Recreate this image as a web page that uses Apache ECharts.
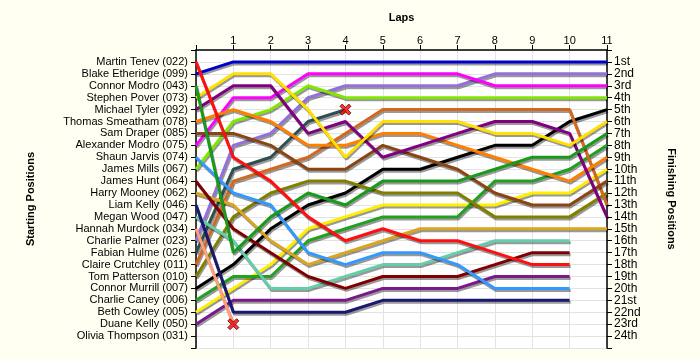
<!DOCTYPE html>
<html>
<head>
<meta charset="utf-8">
<script src="https://cdn.jsdelivr.net/npm/echarts@6/dist/echarts.min.js"></script>
<style>
  html, body { margin: 0; background: #fffff2; }
  #chart { width: 700px; height: 360px; }
</style>
</head>
<body>
<div id="chart"></div>
<script>
// starting grid, top to bottom
var drivers = ['Martin Tenev (022)', 'Blake Etheridge (099)', 'Connor Modro (043)', 'Stephen Pover (073)',
  'Michael Tyler (092)', 'Thomas Smeatham (078)', 'Sam Draper (085)', 'Alexander Modro (075)',
  'Shaun Jarvis (074)', 'James Mills (067)', 'James Hunt (064)', 'Harry Mooney (062)',
  'Liam Kelly (046)', 'Megan Wood (047)', 'Hannah Murdock (034)', 'Charlie Palmer (023)',
  'Fabian Hulme (026)', 'Claire Crutchley (011)', 'Tom Patterson (010)', 'Connor Murrill (007)',
  'Charlie Caney (006)', 'Beth Cowley (005)', 'Duane Kelly (050)', 'Olivia Thompson (031)'];

var finishLabels = ['1st', '2nd', '3rd', '4th', '5th', '6th', '7th', '8th', '9th', '10th', '11th', '12th',
  '13th', '14th', '15th', '16th', '17th', '18th', '19th', '20th', '21st', '22nd', '23rd', '24th'];

var lapLabels = [1, 2, 3, 4, 5, 6, 7, 8, 9, 10, 11];

// position at lap 0,1,2,... for each driver
var tenev      = [1, 9, 11, 14, 16, 15, 16, 16, 17, 18, 18];
var etheridge  = [2, 1, 1, 1, 1, 1, 1, 1, 1, 1, 1, 1];
var cModro     = [3, 17, 14, 12, 13, 11, 11, 11, 10, 9, 9, 7];
var pover      = [4, 2, 2, 5, 9, 6, 6, 6, 7, 7, 8, 6];
var tyler      = [5, 3, 3, 7, 6, 9, 8, 7, 6, 6, 7, 14];
var smeatham   = [6, 5, 6, 8, 8, 7, 7, 8, 9, 10, 11, 9];
var draper     = [7, 7, 8, 10, 10, 8, 9, 10, 12, 13, 13, 11];
var aModro     = [8, 4, 4, 2, 2, 2, 2, 2, 3, 3, 3, 3];
var jarvis     = [9, 12, 13, 17, 18, 17, 17, 18, 20, 20, 20];
var mills      = [10, 6, 5, 3, 4, 4, 4, 4, 4, 4, 4, 4];
var hunt       = [11, 15, 17, 19, 20, 19, 19, 19, 18, 17, 17];
var mooney     = [12, 13, 16, 18, 17, 16, 15, 15, 15, 15, 15, 15];
var lKelly     = [13, 22, 22, 22, 22, 21, 21, 21, 21, 21, 21];
var wood       = [14, 16, 20, 20, 19, 18, 18, 17, 16, 16, 16];
var murdock    = [15, 23];
var palmer     = [16, 8, 7, 4, 3, 3, 3, 3, 2, 2, 2, 2];
var hulme      = [17, 10, 9, 6, 5];
var crutchley  = [18, 11, 10, 9, 7, 5, 5, 5, 5, 5, 5, 13];
var patterson  = [19, 14, 12, 11, 11, 12, 12, 12, 14, 14, 14, 12];
var murrill    = [20, 18, 15, 13, 12, 10, 10, 9, 8, 8, 6, 5];
var caney      = [21, 19, 19, 16, 15, 14, 14, 14, 11, 11, 10, 8];
var cowley     = [22, 20, 18, 15, 14, 13, 13, 13, 13, 12, 12, 10];
var dKelly     = [23, 21, 21, 21, 21, 20, 20, 20, 19, 19, 19];
var thompson   = [];

var laps = [tenev, etheridge, cModro, pover, tyler, smeatham, draper, aModro, jarvis, mills, hunt, mooney,
  lKelly, wood, murdock, palmer, hulme, crutchley, patterson, murrill, caney, cowley, dKelly, thompson];

// [lap, position] where a driver retired
var retired = [[1, 23], [4, 5]];

var colors = ['#ff1010', '#0000cc', '#1a9a1a', '#ffe000', '#800080', '#ff8000', '#8b4513', '#ff00ff',
  '#3399ff', '#80e800', '#800000', '#daa520', '#191970', '#66cdaa', '#ffa07a', '#9370db',
  '#2f4f4f', '#d2691e', '#808000', '#000000', '#22a022', '#ffee00', '#7a1a8a', '#888888'];

var myChart = echarts.init(document.getElementById('chart'));

var series = [];
laps.forEach(function (row, i) {
  if (!row.length) return;
  series.push({
    name: drivers[i],
    type: 'line',
    data: row.map(function (p, lap) { return [lap, p]; }),
    showSymbol: false,
    silent: true,
    lineStyle: {
      color: colors[i],
      width: 3,
      shadowColor: 'rgba(0,0,0,0.4)',
      shadowOffsetX: 1,
      shadowOffsetY: 2
    },
    z: 2 + (23 - i) / 100
  });
});

series.push({
  type: 'scatter',
  data: retired,
  symbol: 'path://M0,2 L2,0 L5,3 L8,0 L10,2 L7,5 L10,8 L8,10 L5,7 L2,10 L0,8 L3,5 Z',
  symbolSize: 11,
  itemStyle: { color: '#ff0000', borderColor: '#550000', borderWidth: 1 },
  z: 5
});

var axisFont = { fontFamily: 'Liberation Sans', fontSize: 11, color: '#000' };
var nameFont = { fontFamily: 'Liberation Sans', fontSize: 11, fontWeight: 'bold', color: '#000' };

var option = {
  backgroundColor: '#fffff2',
  animation: false,
  grid: {
    left: 196, right: 93, top: 50, bottom: 12,
    show: true, backgroundColor: '#ffffff', borderWidth: 0
  },
  xAxis: {
    type: 'value',
    position: 'top',
    min: 0, max: 11, interval: 1,
    name: 'Laps',
    nameLocation: 'middle',
    nameGap: 27,
    nameTextStyle: nameFont,
    axisLine: { lineStyle: { color: '#000', width: 1.5 } },
    axisTick: { show: true, length: 5, lineStyle: { color: '#000' } },
    axisLabel: Object.assign({
      margin: 4,
      formatter: function (v) { return lapLabels.indexOf(v) >= 0 ? String(v) : ''; }
    }, axisFont),
    splitLine: { show: true, lineStyle: { color: '#e3e3e3' } }
  },
  yAxis: [{
    type: 'value',
    inverse: true,
    position: 'left',
    min: 0, max: 25, interval: 1,
    name: 'Starting Positions',
    nameLocation: 'middle',
    nameRotate: 90,
    nameGap: 160,
    nameTextStyle: nameFont,
    axisLine: { show: true, lineStyle: { color: '#000', width: 1.5 } },
    axisTick: { show: true, length: 5, lineStyle: { color: '#000' } },
    axisLabel: Object.assign({
      margin: 8,
      formatter: function (v) { return drivers[v - 1] || ''; }
    }, axisFont),
    splitLine: { show: true, lineStyle: { color: '#e3e3e3' } }
  }, {
    type: 'value',
    inverse: true,
    position: 'right',
    min: 0, max: 25, interval: 1,
    name: 'Finishing Positions',
    nameLocation: 'middle',
    nameRotate: -90,
    nameGap: 59,
    nameTextStyle: nameFont,
    axisLine: { show: true, lineStyle: { color: '#000', width: 1.5 } },
    axisTick: { show: true, length: 5, lineStyle: { color: '#000' } },
    axisLabel: Object.assign({
      margin: 7,
      formatter: function (v) { return finishLabels[v - 1] || ''; }
    }, axisFont, { fontSize: 12 }),
    splitLine: { show: false }
  }],
  series: series
};

myChart.setOption(option);
</script>
</body>
</html>
